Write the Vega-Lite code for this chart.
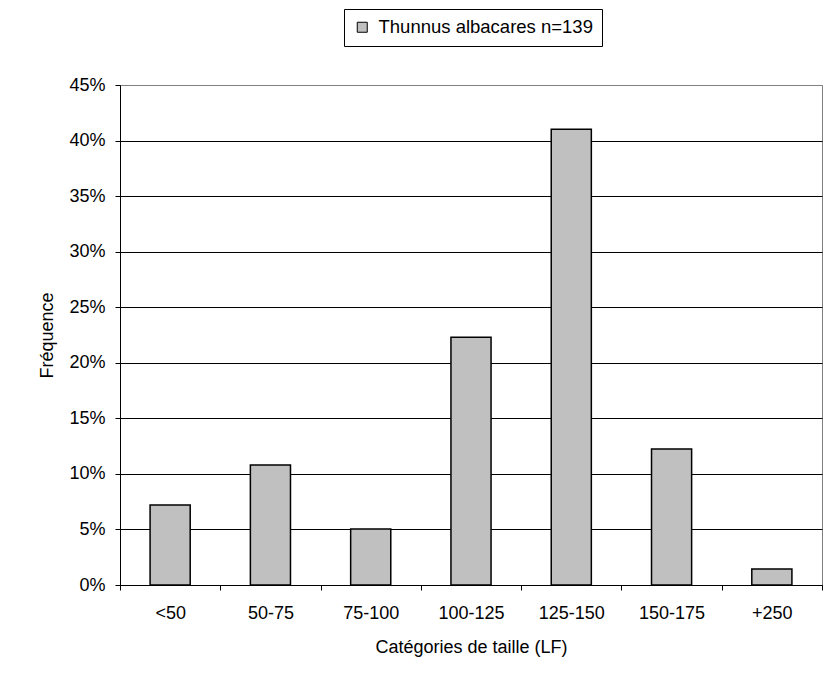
{
  "$schema": "https://vega.github.io/schema/vega-lite/v6.json",
  "width": 702,
  "height": 500,
  "autosize": {"type": "none"},
  "padding": {"left": 120, "top": 85, "right": 3, "bottom": 99},
  "background": "white",
  "data": {
    "values": [
      {"cat": "<50", "freq": 0.0719, "series": "Thunnus albacares n=139"},
      {"cat": "50-75", "freq": 0.1079, "series": "Thunnus albacares n=139"},
      {"cat": "75-100", "freq": 0.0504, "series": "Thunnus albacares n=139"},
      {"cat": "100-125", "freq": 0.2230, "series": "Thunnus albacares n=139"},
      {"cat": "125-150", "freq": 0.4101, "series": "Thunnus albacares n=139"},
      {"cat": "150-175", "freq": 0.1223, "series": "Thunnus albacares n=139"},
      {"cat": "+250", "freq": 0.0144, "series": "Thunnus albacares n=139"}
    ]
  },
  "mark": {"type": "bar", "width": {"band": 0.4}, "stroke": "black", "strokeWidth": 1.5},
  "encoding": {
    "x": {
      "field": "cat",
      "type": "nominal",
      "sort": null,
      "scale": {"paddingInner": 0, "paddingOuter": 0},
      "axis": {
        "title": "Catégories de taille (LF)",
        "labelAngle": 0,
        "tickBand": "extent",
        "tickSize": 5,
        "tickColor": "black",
        "domainColor": "black",
        "labelFontSize": 18,
        "labelColor": "black",
        "labelPadding": 14,
        "titleFontSize": 18,
        "titleFontWeight": "normal",
        "titleColor": "black",
        "titlePadding": 16,
        "grid": false
      }
    },
    "y": {
      "field": "freq",
      "type": "quantitative",
      "scale": {"domain": [0, 0.45]},
      "axis": {
        "title": "Fréquence",
        "format": ".0%",
        "values": [0, 0.05, 0.1, 0.15, 0.2, 0.25, 0.3, 0.35, 0.4, 0.45],
        "tickSize": 5,
        "tickColor": "black",
        "domainColor": "black",
        "labelFontSize": 18,
        "labelColor": "black",
        "labelPadding": 10,
        "titleFontSize": 18,
        "titleFontWeight": "normal",
        "titleColor": "black",
        "titlePadding": 12,
        "grid": true,
        "gridColor": {"condition": {"test": "datum.value >= 0.449", "value": "#808080"}, "value": "black"},
        "gridOpacity": 1
      }
    },
    "color": {
      "field": "series",
      "type": "nominal",
      "scale": {"range": ["#c0c0c0"]},
      "legend": {
        "title": null,
        "orient": "none",
        "legendX": 224,
        "legendY": -76,
        "strokeColor": "black",
        "fillColor": "white",
        "padding": 9,
        "labelFontSize": 18.5,
        "labelColor": "black",
        "labelLimit": 400,
        "labelOffset": 7,
        "symbolType": "square",
        "symbolSize": 100,
        "symbolStrokeColor": "black",
        "symbolStrokeWidth": 1
      }
    }
  },
  "config": {
    "font": "Liberation Sans",
    "view": {"stroke": "#808080", "strokeWidth": 1}
  }
}
